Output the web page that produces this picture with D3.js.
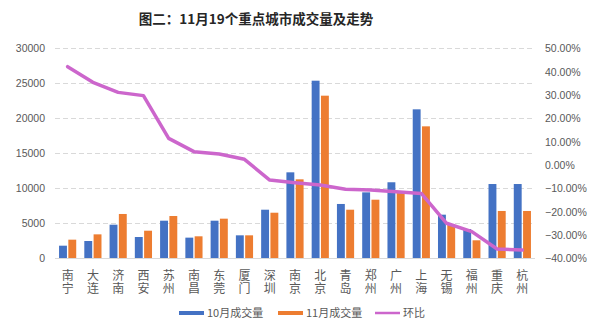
<!DOCTYPE html>
<html>
<head>
<meta charset="utf-8">
<script src="https://cdn.jsdelivr.net/npm/d3@7"></script>
<style>
  html, body { margin: 0; padding: 0; background: #fff; }
  svg { display: block; font-family: "Liberation Sans", Arial, "Noto Sans CJK SC", sans-serif; }
</style>
</head>
<body>
<svg id="chart" width="612" height="329"></svg>
<script>
// City names (x categories)
const cities = ["南宁","大连","济南","西安","苏州","南昌","东莞","厦门","深圳","南京",
                "北京","青岛","郑州","广州","上海","无锡","福州","重庆","杭州"];
// October transaction volume
const octVolume = [1830, 2500, 4830, 3070, 5400, 2980, 5400, 3310, 6970, 12310,
                   25400, 7790, 9450, 10890, 21310, 6260, 4210, 10640, 10640];
// November transaction volume
const novVolume = [2690, 3450, 6360, 3970, 6070, 3170, 5690, 3310, 6540, 11310,
                   23260, 6970, 8400, 9350, 18880, 4830, 2600, 6790, 6790];
// Month-on-month change (%)
const momChange = [42.2, 35.5, 31.2, 29.8, 11.5, 5.8, 4.8, 2.5, -6.4, -7.5,
                   -8.5, -10.3, -10.6, -11.4, -12.1, -24.9, -28.5, -35.9, -36.4];
// Axis ticks
const leftTicks = [0, 5000, 10000, 15000, 20000, 25000, 30000];
const rightTicks = [-40, -30, -20, -10, 0, 10, 20, 30, 40, 50];
const seriesNames = ["10月成交量", "11月成交量", "环比"];
const colors = ["#4472C4", "#ED7D31", "#CC66CC"];

const svg = d3.select("#chart");
const plot = { left: 55, right: 535, top: 48.5, bottom: 258.5 };

const x = d3.scaleBand().domain(cities).range([plot.left, plot.right]).paddingInner(0).paddingOuter(0);
const x1 = d3.scaleBand().domain([0, 1])
  .range([x.bandwidth() * 0.16, x.bandwidth() * 0.84]).paddingInner(0.15).paddingOuter(0);
const yL = d3.scaleLinear().domain([0, 30000]).range([plot.bottom, plot.top]);
const yR = d3.scaleLinear().domain([-40, 50]).range([plot.bottom, plot.top]);

// Title
svg.append("text")
  .attr("x", 256).attr("y", 24)
  .attr("text-anchor", "middle")
  .style("font-family", "'Noto Sans CJK SC', sans-serif")
  .style("font-weight", "bold").style("font-size", "13.5px")
  .attr("fill", "#262626")
  .text("图二：11月19个重点城市成交量及走势");

// Gridlines
svg.append("g").selectAll("line")
  .data(leftTicks.filter(d => d > 0))
  .join("line")
  .attr("x1", plot.left).attr("x2", plot.right)
  .attr("y1", d => yL(d)).attr("y2", d => yL(d))
  .attr("stroke", "#D9D9D9").attr("stroke-width", 1)
  .attr("stroke-dasharray", "5,3");

// Left axis
const axL = svg.append("g").attr("transform", `translate(${plot.left},0)`)
  .call(d3.axisLeft(yL).tickValues(leftTicks).tickSize(0).tickPadding(10).tickFormat(d3.format("d")));
axL.select(".domain").remove();
axL.selectAll("text").attr("fill", "#595959").style("font-size", "10.5px");

// Right axis
const axR = svg.append("g").attr("transform", `translate(${plot.right},0)`)
  .call(d3.axisRight(yR).tickValues(rightTicks).tickSize(0).tickPadding(10)
    .tickFormat(d => d3.format(".2f")(d) + "%"));
axR.select(".domain").remove();
axR.selectAll("text").attr("fill", "#595959").style("font-size", "10.5px");

// Bars
const rows = cities.map((c, i) => ({ city: c, vals: [octVolume[i], novVolume[i]] }));
const groups = svg.append("g").selectAll("g")
  .data(rows).join("g")
  .attr("transform", d => `translate(${x(d.city)},0)`);
groups.selectAll("rect")
  .data(d => d.vals.map((v, k) => ({ k, v })))
  .join("rect")
  .attr("x", d => x1(d.k))
  .attr("width", x1.bandwidth())
  .attr("y", d => yL(d.v))
  .attr("height", d => yL(0) - yL(d.v))
  .attr("fill", d => colors[d.k]);

// Baseline
svg.append("line")
  .attr("x1", plot.left).attr("x2", plot.right)
  .attr("y1", yL(0)).attr("y2", yL(0))
  .attr("stroke", "#D9D9D9").attr("stroke-width", 1);

// Month-on-month line
const line = d3.line()
  .x((d, i) => x(cities[i]) + x.bandwidth() / 2)
  .y(d => yR(d));
svg.append("path")
  .datum(momChange)
  .attr("d", line)
  .attr("fill", "none")
  .attr("stroke", colors[2])
  .attr("stroke-width", 3.5)
  .attr("stroke-linejoin", "round")
  .attr("stroke-linecap", "round");

// X labels, written vertically (top to bottom)
svg.append("g").selectAll("text")
  .data(cities).join("text")
  .attr("x", d => x(d) + x.bandwidth() / 2)
  .attr("y", 269)
  .style("writing-mode", "vertical-rl")
  .style("text-orientation", "upright")
  .style("letter-spacing", "1.5px")
  .style("font-family", "'Noto Sans CJK SC', sans-serif")
  .style("font-size", "12px")
  .attr("fill", "#595959")
  .text(d => d);

// Legend
const legendItems = [
  { name: seriesNames[0], color: colors[0], x: 179, w: 4 },
  { name: seriesNames[1], color: colors[1], x: 278, w: 4 },
  { name: seriesNames[2], color: colors[2], x: 375, w: 2.5 }
];
const lg = svg.append("g").selectAll("g").data(legendItems).join("g");
lg.append("line")
  .attr("x1", d => d.x).attr("x2", d => d.x + 25)
  .attr("y1", 313).attr("y2", 313)
  .attr("stroke", d => d.color).attr("stroke-width", d => d.w);
lg.append("text")
  .attr("x", d => d.x + 28).attr("y", 317)
  .style("font-family", "'Noto Sans CJK SC', sans-serif")
  .style("font-size", "11px")
  .attr("fill", "#595959")
  .text(d => d.name);
</script>
</body>
</html>
